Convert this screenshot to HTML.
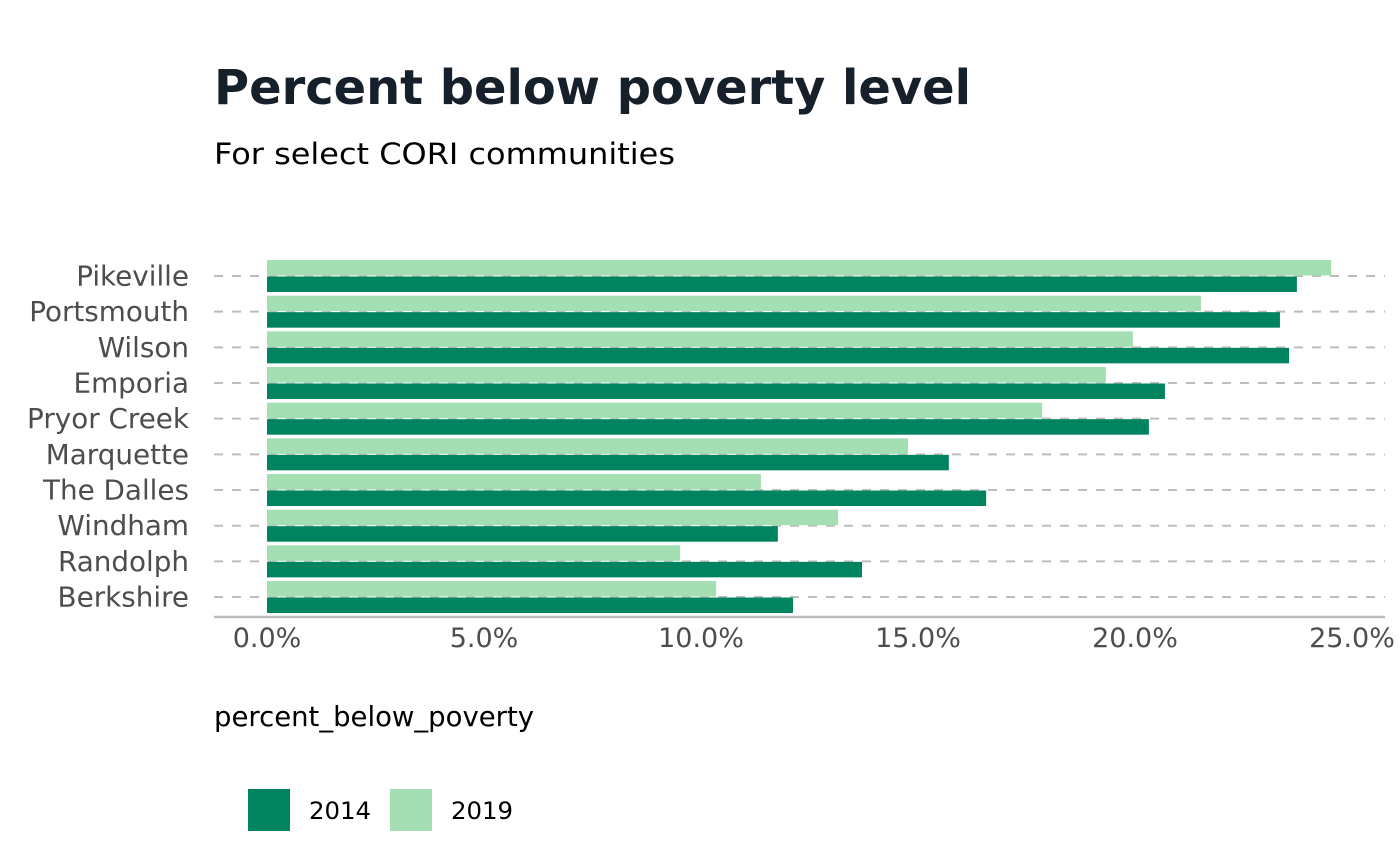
<!DOCTYPE html>
<html><head><meta charset="utf-8"><style>
html,body{margin:0;padding:0;background:#fff;}
svg{display:block;font-family:"DejaVu Sans","Liberation Sans",sans-serif;}
</style></head><body>
<svg id="chart" width="1400" height="865">
<text x="214" y="104" font-size="47.9" font-weight="bold" fill="#15202b">Percent below poverty level</text>
<text x="214" y="164" font-size="29" textLength="461" lengthAdjust="spacingAndGlyphs" fill="#000">For select CORI communities</text>
<g id="grid"></g><g id="bars"></g><g id="ylabels"></g><g id="xticks"></g>
<line x1="214" x2="1385" y1="617" y2="617" stroke="#bdbdbd" stroke-width="2.5"/>
<text x="214" y="726" font-size="27.5" fill="#000">percent_below_poverty</text>
<rect x="248" y="789" width="42" height="42" fill="#00845f"/>
<text x="309" y="819" font-size="24.4" fill="#000">2014</text>
<rect x="390" y="789" width="42" height="42" fill="#a3dfb2"/>
<text x="451" y="819" font-size="24.4" fill="#000">2019</text>
</svg>
<script>
const categories=["Pikeville","Portsmouth","Wilson","Emporia","Pryor Creek","Marquette","The Dalles","Windham","Randolph","Berkshire"];
const values2014=[23.73,23.34,23.55,20.69,20.32,15.71,16.57,11.77,13.71,12.12];
const values2019=[24.52,21.52,19.95,19.33,17.86,14.77,11.38,13.16,9.52,10.35];
const tickValues=[0,5,10,15,20,25];
const tickLabels=["0.0%","5.0%","10.0%","15.0%","20.0%","25.0%"];
const NS="http://www.w3.org/2000/svg";
const x=v=>267+v*43.4;
const y=i=>276+i*35.67;
function mk(tag,attrs,parent){const e=document.createElementNS(NS,tag);for(const k in attrs)e.setAttribute(k,attrs[k]);document.getElementById(parent).appendChild(e);return e;}
categories.forEach((c,i)=>{
  const g=mk('line',{x1:214,x2:1385,y1:y(i),y2:y(i),stroke:'#bdbdbd','stroke-width':2,'stroke-dasharray':'9,9'},'grid');
  
  
  const b1=mk('rect',{x:x(0),y:y(i)-16,width:x(values2019[i])-x(0),height:15.5,fill:'#a3dfb2'},'bars');
  
  
  const b2=mk('rect',{x:x(0),y:y(i)+0.5,width:x(values2014[i])-x(0),height:15.5,fill:'#00845f'},'bars');
  
  
  const t=mk('text',{x:189,y:y(i)+9.5,'font-size':27.8,fill:'#4d4d4d','text-anchor':'end'},'ylabels');
  t.textContent=c;
  
  
});
tickValues.forEach((v,i)=>{
  const t=mk('text',{x:x(v),y:647,'font-size':27,fill:'#4d4d4d','text-anchor':'middle'},'xticks');
  t.textContent=tickLabels[i];
  
  
});
</script>
</body></html>
